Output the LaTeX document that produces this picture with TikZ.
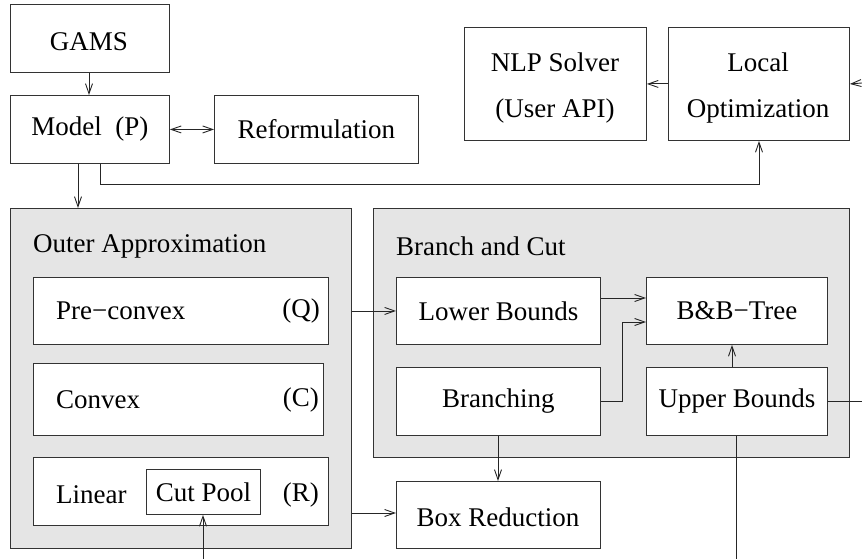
\documentclass[tikz,border=0pt]{standalone}
\usepackage{fontspec}
\setmainfont{Liberation Serif}
\usetikzlibrary{arrows.meta}
\begin{document}
\begin{tikzpicture}[x=1pt,y=-1pt,
  every node/.style={font=\fontsize{27}{46}\selectfont, inner sep=0pt},
  box/.style={draw=black!80, fill=white, line width=0.9pt, anchor=north west},
  group/.style={draw=black!80, fill=black!10, line width=0.9pt, anchor=north west},
  lbl/.style={anchor=west},
  rlbl/.style={anchor=east},
  conn/.style={draw=black!85, line width=0.9pt},
  arr/.style={conn, -{Straight Barb[length=10pt,width=7pt]}},
  darr/.style={conn, {Straight Barb[length=10pt,width=7pt]}-{Straight Barb[length=10pt,width=7pt]}}]
\useasboundingbox (0,0) rectangle (862,559);

% top row
\node[box, minimum width=159pt, minimum height=68pt] (gams) at (10,4) {};
\node at (89,42) {GAMS};
\node[box, minimum width=159pt, minimum height=68pt] (model) at (10,95) {Model\ \ (P)};
\node[box, minimum width=204pt, minimum height=68pt] (reform) at (214,95) {Reformulation};
\node[box, minimum width=182pt, minimum height=113pt] (nlp) at (464,27) {};
\node[align=center] at (555,88) {NLP Solver\\(User API)};
\node[box, minimum width=181pt, minimum height=113pt] (local) at (668,27) {};
\node[align=center] at (758,88) {Local\\Optimization};

% outer approximation group
\node[group, minimum width=341pt, minimum height=340pt] (oa) at (10,208) {};
\node[lbl] (oatitle) at (33,246) {Outer Approximation};
\node[box, minimum width=295pt, minimum height=67pt] (pre) at (33,277) {};
\node[lbl] at (56,311) {Pre\char"2212 convex};
\node[rlbl] at (320,311) {(Q)};
\node[box, minimum width=290pt, minimum height=72pt] (cvx) at (33,363) {};
\node[lbl] at (56,400) {Convex};
\node[rlbl] at (319,400) {(C)};
\node[box, minimum width=295pt, minimum height=68pt] (lin) at (33,457) {};
\node[lbl] at (56,495) {Linear};
\node[rlbl] at (319,495) {(R)};
\node[box, minimum width=114pt, minimum height=45pt] (cutpool) at (146,469) {Cut Pool};

% branch and cut group
\node[group, minimum width=476pt, minimum height=249pt] (bc) at (373,208) {};
\node[lbl] (bctitle) at (396,246) {Branch and Cut};
\node[box, minimum width=204pt, minimum height=67pt] (lower) at (396,277) {Lower Bounds};
\node[box, minimum width=204pt, minimum height=68pt] (branch) at (396,367) {Branching};
\node[box, minimum width=181pt, minimum height=67pt] (tree) at (646,277) {B\&B\char"2212 Tree};
\node[box, minimum width=181pt, minimum height=68pt] (upper) at (646,367) {Upper Bounds};
\node[box, minimum width=204pt, minimum height=67pt] (boxred) at (396,481) {};
\node at (498,517) {Box Reduction};

% free ends at the border
\coordinate (eLocal) at (862,83);
\coordinate (eUpperR) at (862,401);
\coordinate (eUpperD) at (736,559);
\coordinate (eCut) at (203,559);

% connectors
\draw[arr] (gams.south -| 89,0) -- (model.north -| 89,0);
\draw[darr] (model.east) -- (reform.west);
\draw[arr] (model.south -| 78,0) -- (oa.north -| 78,0);
\draw[arr] (model.south -| 100,0) -- (100,184) -- (759,184) -- (local.south -| 759,0);
\draw[arr] (local.west) -- (nlp.east);
\draw[arr] (eLocal) -- (local.east);
\draw[arr] (oa.east |- pre.east) -- (lower.west);
\draw[arr] (oa.east |- 0,513) -- (boxred.west |- 0,513);
\draw[arr] (lower.east |- 0,298) -- (tree.west |- 0,298);
\draw[arr] (branch.east |- 0,401) -- (622,401) -- (622,322) -- (tree.west |- 0,322);
\draw[arr] (upper.north -| 732,0) -- (tree.south -| 732,0);
\draw[arr] (branch.south -| 498,0) -- (boxred.north -| 498,0);
\draw[conn] (upper.east |- eUpperR) -- (eUpperR);
\draw[conn] (upper.south -| eUpperD) -- (eUpperD);
\draw[arr] (eCut) -- (cutpool.south -| eCut);
\end{tikzpicture}
\end{document}
